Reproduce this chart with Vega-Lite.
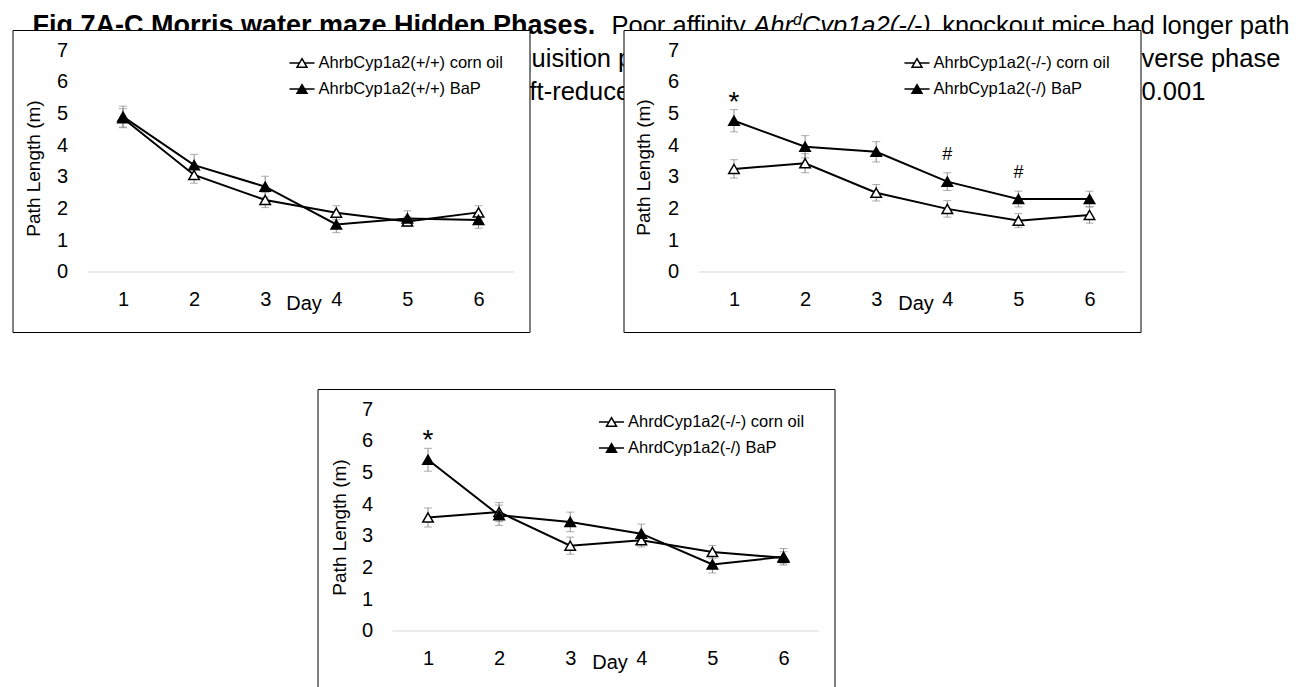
{
  "$schema": "https://vega.github.io/schema/vega-lite/v6.json",
  "background": "white",
  "padding": {"left": 11.5, "top": 12, "right": 5, "bottom": 0},
  "config": {
    "font": "Liberation Sans",
    "view": {"stroke": null},
    "axis": {"labelColor": "black", "titleColor": "black", "labelFont": "Liberation Sans", "titleFont": "Liberation Sans", "titleFontWeight": "normal"},
    "axisX": {"offset": -60, "grid": false, "ticks": false, "domain": false, "labelFontSize": 20, "labelPadding": 17, "labelFlush": false, "labelOverlap": false, "titleFontSize": 20, "titleX": 291, "titleY": 37, "titleBaseline": "alphabetic", "titleAlign": "center"},
    "axisY": {"offset": -57, "grid": false, "ticks": false, "domain": false, "labelFontSize": 20, "labelPadding": 2, "labelFlush": false, "labelOverlap": false, "titleFontSize": 19, "titleX": -36, "titleY": 138, "titleAngle": 270, "titleAlign": "center", "titleBaseline": "middle"},
    "legend": {"labelColor": "black", "labelFont": "Liberation Sans", "labelFontSize": 16.5, "labelOffset": 4, "rowPadding": 5, "padding": 0, "labelLimit": 400, "symbolSize": 529, "symbolStrokeWidth": 1.5, "symbolStrokeColor": "black"},
    "text": {"color": "black", "font": "Liberation Sans"}
  },
  "resolve": {"scale": {"fill": "independent"}, "legend": {"fill": "independent"}},
  "spacing": 55,
  "vconcat": [
    {
      "resolve": {"scale": {"fill": "independent"}, "legend": {"fill": "independent"}},
      "spacing": -1,
      "bounds": "flush",
      "hconcat": [
        {
          "width": 1, "height": 1,
          "view": {"stroke": null},
          "data": {"values": [
            {"seg": "t", "text": "Fig 7A-C Morris water maze Hidden Phases."},
            {"seg": "a", "text": "Poor affinity"},
            {"seg": "b", "text": "Ahr"},
            {"seg": "c", "text": "d"},
            {"seg": "e", "text": "Cyp1a2(-/-)"},
            {"seg": "f", "text": "knockout mice had longer path"},
            {"seg": "g", "text": "acquisition phase"},
            {"seg": "h", "text": "reverse phase"},
            {"seg": "i", "text": "shift-reduced"},
            {"seg": "j", "text": "p < 0.001"}
          ]},
          "layer": [
            {"transform": [{"filter": "datum.seg === 't'"}], "mark": {"type": "text", "align": "left", "baseline": "alphabetic", "fontSize": 27, "fontWeight": "bold"}, "encoding": {"text": {"field": "text"}, "x": {"value": 21}, "y": {"value": 4}}},
            {"transform": [{"filter": "datum.seg === 'a'"}], "mark": {"type": "text", "align": "left", "baseline": "alphabetic", "fontSize": 25.5}, "encoding": {"text": {"field": "text"}, "x": {"value": 600}, "y": {"value": 4}}},
            {"transform": [{"filter": "datum.seg === 'b'"}], "mark": {"type": "text", "align": "left", "baseline": "alphabetic", "fontSize": 25.5, "fontStyle": "italic"}, "encoding": {"text": {"field": "text"}, "x": {"value": 741.7}, "y": {"value": 4}}},
            {"transform": [{"filter": "datum.seg === 'c'"}], "mark": {"type": "text", "align": "left", "baseline": "alphabetic", "fontSize": 16, "fontStyle": "italic"}, "encoding": {"text": {"field": "text"}, "x": {"value": 781.4}, "y": {"value": -5}}},
            {"transform": [{"filter": "datum.seg === 'e'"}], "mark": {"type": "text", "align": "left", "baseline": "alphabetic", "fontSize": 25.5, "fontStyle": "italic"}, "encoding": {"text": {"field": "text"}, "x": {"value": 790.3}, "y": {"value": 4}}},
            {"transform": [{"filter": "datum.seg === 'f'"}], "mark": {"type": "text", "align": "right", "baseline": "alphabetic", "fontSize": 25.5}, "encoding": {"text": {"field": "text"}, "x": {"value": 1278}, "y": {"value": 4}}},
            {"transform": [{"filter": "datum.seg === 'g'"}], "mark": {"type": "text", "align": "left", "baseline": "alphabetic", "fontSize": 25.5}, "encoding": {"text": {"field": "text"}, "x": {"value": 479}, "y": {"value": 37}}},
            {"transform": [{"filter": "datum.seg === 'h'"}], "mark": {"type": "text", "align": "left", "baseline": "alphabetic", "fontSize": 25.5}, "encoding": {"text": {"field": "text"}, "x": {"value": 1107.3}, "y": {"value": 37}}},
            {"transform": [{"filter": "datum.seg === 'i'"}], "mark": {"type": "text", "align": "left", "baseline": "alphabetic", "fontSize": 25.5}, "encoding": {"text": {"field": "text"}, "x": {"value": 485.4}, "y": {"value": 70}}},
            {"transform": [{"filter": "datum.seg === 'j'"}], "mark": {"type": "text", "align": "left", "baseline": "alphabetic", "fontSize": 25.5}, "encoding": {"text": {"field": "text"}, "x": {"value": 1086.8}, "y": {"value": 70}}}
          ]
        },
        {
          "resolve": {"scale": {"fill": "independent"}, "legend": {"fill": "independent"}},
          "spacing": 94,
          "bounds": "flush",
          "hconcat": [
            {
              "width": 517, "height": 302,
              "view": {"fill": "white", "stroke": "black", "strokeWidth": 1},
              "data": {"values": [
                {"day": 1, "group": "AhrbCyp1a2(+/+) corn oil", "mean": 4.85, "se": 0.30},
                {"day": 2, "group": "AhrbCyp1a2(+/+) corn oil", "mean": 3.06, "se": 0.26},
                {"day": 3, "group": "AhrbCyp1a2(+/+) corn oil", "mean": 2.27, "se": 0.24},
                {"day": 4, "group": "AhrbCyp1a2(+/+) corn oil", "mean": 1.87, "se": 0.22},
                {"day": 5, "group": "AhrbCyp1a2(+/+) corn oil", "mean": 1.59, "se": 0.15},
                {"day": 6, "group": "AhrbCyp1a2(+/+) corn oil", "mean": 1.88, "se": 0.21},
                {"day": 1, "group": "AhrbCyp1a2(+/+) BaP", "mean": 4.90, "se": 0.33},
                {"day": 2, "group": "AhrbCyp1a2(+/+) BaP", "mean": 3.37, "se": 0.34},
                {"day": 3, "group": "AhrbCyp1a2(+/+) BaP", "mean": 2.69, "se": 0.33},
                {"day": 4, "group": "AhrbCyp1a2(+/+) BaP", "mean": 1.50, "se": 0.26},
                {"day": 5, "group": "AhrbCyp1a2(+/+) BaP", "mean": 1.69, "se": 0.24},
                {"day": 6, "group": "AhrbCyp1a2(+/+) BaP", "mean": 1.64, "se": 0.26}
              ]},
              "encoding": {
                "x": {"field": "day", "type": "quantitative", "scale": {"domain": [-0.554, 6.717], "nice": false, "zero": false}, "axis": {"values": [1, 2, 3, 4, 5, 6], "title": "Day"}},
                "y": {"field": "mean", "type": "quantitative", "scale": {"domain": [-1.892, 7.631], "nice": false, "zero": false}, "axis": {"values": [0, 1, 2, 3, 4, 5, 6, 7], "title": "Path Length (m)"}}
              },
              "layer": [
                {"data": {"values": [{"level": 0, "start": 0.5, "end": 6.5}]}, "mark": {"type": "rule", "color": "#d9d9d9", "strokeWidth": 1},
                 "encoding": {"x": {"field": "start", "type": "quantitative", "scale": {"domain": [-0.554, 6.717], "nice": false, "zero": false}, "axis": {"values": [1, 2, 3, 4, 5, 6], "title": "Day"}}, "x2": {"field": "end"}, "y": {"field": "level", "type": "quantitative", "scale": {"domain": [-1.892, 7.631], "nice": false, "zero": false}, "axis": {"values": [0, 1, 2, 3, 4, 5, 6, 7], "title": "Path Length (m)"}}}},
                {"mark": {"type": "errorbar", "ticks": true, "size": 8, "thickness": 1, "color": "#8a8a8a"},
                 "encoding": {"yError": {"field": "se"}}},
                {"mark": {"type": "line", "color": "black", "strokeWidth": 2},
                 "encoding": {"detail": {"field": "group"}}},
                {"mark": {"type": "point", "shape": "triangle-up", "size": 110, "filled": true, "stroke": "black", "strokeWidth": 1.5, "opacity": 1},
                 "encoding": {
                   "fill": {"field": "group", "type": "nominal", "scale": {"domain": ["AhrbCyp1a2(+/+) corn oil", "AhrbCyp1a2(+/+) BaP"], "range": ["white", "black"]},
                            "legend": {"title": null, "orient": "none", "legendX": 277, "legendY": 20.5, "symbolType": "M-1.09,0L-0.22,0M0.22,0L1.09,0M0,-0.377L0.435,0.377L-0.435,0.377Z"}}}}
              ]
            },
            {
              "width": 517, "height": 302,
              "view": {"fill": "white", "stroke": "black", "strokeWidth": 1},
              "data": {"values": [
                {"day": 1, "group": "AhrbCyp1a2(-/-) corn oil", "mean": 3.25, "se": 0.29},
                {"day": 2, "group": "AhrbCyp1a2(-/-) corn oil", "mean": 3.43, "se": 0.30},
                {"day": 3, "group": "AhrbCyp1a2(-/-) corn oil", "mean": 2.50, "se": 0.26},
                {"day": 4, "group": "AhrbCyp1a2(-/-) corn oil", "mean": 1.99, "se": 0.26},
                {"day": 5, "group": "AhrbCyp1a2(-/-) corn oil", "mean": 1.62, "se": 0.22},
                {"day": 6, "group": "AhrbCyp1a2(-/-) corn oil", "mean": 1.80, "se": 0.26},
                {"day": 1, "group": "AhrbCyp1a2(-/) BaP", "mean": 4.77, "se": 0.35},
                {"day": 2, "group": "AhrbCyp1a2(-/) BaP", "mean": 3.95, "se": 0.35},
                {"day": 3, "group": "AhrbCyp1a2(-/) BaP", "mean": 3.79, "se": 0.32},
                {"day": 4, "group": "AhrbCyp1a2(-/) BaP", "mean": 2.85, "se": 0.28},
                {"day": 5, "group": "AhrbCyp1a2(-/) BaP", "mean": 2.30, "se": 0.25},
                {"day": 6, "group": "AhrbCyp1a2(-/) BaP", "mean": 2.30, "se": 0.25}
              ]},
              "encoding": {
                "x": {"field": "day", "type": "quantitative", "scale": {"domain": [-0.554, 6.717], "nice": false, "zero": false}, "axis": {"values": [1, 2, 3, 4, 5, 6], "title": "Day", "titleX": 292}},
                "y": {"field": "mean", "type": "quantitative", "scale": {"domain": [-1.892, 7.631], "nice": false, "zero": false}, "axis": {"values": [0, 1, 2, 3, 4, 5, 6, 7], "title": "Path Length (m)", "titleX": -37, "titleY": 137}}
              },
              "layer": [
                {"data": {"values": [{"level": 0, "start": 0.5, "end": 6.5}]}, "mark": {"type": "rule", "color": "#d9d9d9", "strokeWidth": 1},
                 "encoding": {"x": {"field": "start", "type": "quantitative", "scale": {"domain": [-0.554, 6.717], "nice": false, "zero": false}, "axis": {"values": [1, 2, 3, 4, 5, 6], "title": "Day", "titleX": 292}}, "x2": {"field": "end"}, "y": {"field": "level", "type": "quantitative", "scale": {"domain": [-1.892, 7.631], "nice": false, "zero": false}, "axis": {"values": [0, 1, 2, 3, 4, 5, 6, 7], "title": "Path Length (m)", "titleX": -37, "titleY": 137}}}},
                {"mark": {"type": "errorbar", "ticks": true, "size": 8, "thickness": 1, "color": "#8a8a8a"},
                 "encoding": {"yError": {"field": "se"}}},
                {"mark": {"type": "line", "color": "black", "strokeWidth": 2},
                 "encoding": {"detail": {"field": "group"}}},
                {"mark": {"type": "point", "shape": "triangle-up", "size": 110, "filled": true, "stroke": "black", "strokeWidth": 1.5, "opacity": 1},
                 "encoding": {
                   "fill": {"field": "group", "type": "nominal", "scale": {"domain": ["AhrbCyp1a2(-/-) corn oil", "AhrbCyp1a2(-/) BaP"], "range": ["white", "black"]},
                            "legend": {"title": null, "orient": "none", "legendX": 281, "legendY": 20.5, "symbolType": "M-1.09,0L-0.22,0M0.22,0L1.09,0M0,-0.377L0.435,0.377L-0.435,0.377Z"}}}},
                {"data": {"values": [{"day": 1, "mean": 5.07, "sig": "*"}]},
                 "mark": {"type": "text", "fontSize": 28, "align": "center", "baseline": "alphabetic"},
                 "encoding": {"text": {"field": "sig"}}},
                {"data": {"values": [{"day": 4, "mean": 3.53, "sig": "#"}, {"day": 5, "mean": 2.96, "sig": "#"}]},
                 "mark": {"type": "text", "fontSize": 18, "align": "center", "baseline": "alphabetic"},
                 "encoding": {"text": {"field": "sig"}}}
              ]
            }
          ]
        }
      ]
    },
    {
      "resolve": {"scale": {"fill": "independent"}, "legend": {"fill": "independent"}},
      "spacing": 0,
      "bounds": "flush",
      "hconcat": [
        {
          "width": 306, "height": 100,
          "view": {"stroke": null},
          "data": {"values": [{"t": ""}]},
          "mark": {"type": "text"},
          "encoding": {"text": {"field": "t"}}
        },
        {
          "width": 517, "height": 302,
          "view": {"fill": "white", "stroke": "black", "strokeWidth": 1},
          "data": {"values": [
            {"day": 1, "group": "AhrdCyp1a2(-/-) corn oil", "mean": 3.58, "se": 0.30},
            {"day": 2, "group": "AhrdCyp1a2(-/-) corn oil", "mean": 3.75, "se": 0.30},
            {"day": 3, "group": "AhrdCyp1a2(-/-) corn oil", "mean": 2.69, "se": 0.27},
            {"day": 4, "group": "AhrdCyp1a2(-/-) corn oil", "mean": 2.86, "se": 0.21},
            {"day": 5, "group": "AhrdCyp1a2(-/-) corn oil", "mean": 2.49, "se": 0.21},
            {"day": 6, "group": "AhrdCyp1a2(-/-) corn oil", "mean": 2.31, "se": 0.19},
            {"day": 1, "group": "AhrdCyp1a2(-/) BaP", "mean": 5.40, "se": 0.36},
            {"day": 2, "group": "AhrdCyp1a2(-/) BaP", "mean": 3.65, "se": 0.32},
            {"day": 3, "group": "AhrdCyp1a2(-/) BaP", "mean": 3.44, "se": 0.31},
            {"day": 4, "group": "AhrdCyp1a2(-/) BaP", "mean": 3.07, "se": 0.30},
            {"day": 5, "group": "AhrdCyp1a2(-/) BaP", "mean": 2.10, "se": 0.27},
            {"day": 6, "group": "AhrdCyp1a2(-/) BaP", "mean": 2.34, "se": 0.26}
          ]},
          "encoding": {
            "x": {"field": "day", "type": "quantitative", "scale": {"domain": [-0.554, 6.717], "nice": false, "zero": false}, "axis": {"values": [1, 2, 3, 4, 5, 6], "title": "Day", "titleX": 292}},
            "y": {"field": "mean", "type": "quantitative", "scale": {"domain": [-1.892, 7.631], "nice": false, "zero": false}, "axis": {"values": [0, 1, 2, 3, 4, 5, 6, 7], "title": "Path Length (m)", "titleX": -35}}
          },
          "layer": [
            {"data": {"values": [{"level": 0, "start": 0.5, "end": 6.5}]}, "mark": {"type": "rule", "color": "#d9d9d9", "strokeWidth": 1},
             "encoding": {"x": {"field": "start", "type": "quantitative", "scale": {"domain": [-0.554, 6.717], "nice": false, "zero": false}, "axis": {"values": [1, 2, 3, 4, 5, 6], "title": "Day", "titleX": 292}}, "x2": {"field": "end"}, "y": {"field": "level", "type": "quantitative", "scale": {"domain": [-1.892, 7.631], "nice": false, "zero": false}, "axis": {"values": [0, 1, 2, 3, 4, 5, 6, 7], "title": "Path Length (m)", "titleX": -35}}}},
            {"mark": {"type": "errorbar", "ticks": true, "size": 8, "thickness": 1, "color": "#8a8a8a"},
             "encoding": {"yError": {"field": "se"}}},
            {"mark": {"type": "line", "color": "black", "strokeWidth": 2},
             "encoding": {"detail": {"field": "group"}}},
            {"mark": {"type": "point", "shape": "triangle-up", "size": 110, "filled": true, "stroke": "black", "strokeWidth": 1.5, "opacity": 1},
             "encoding": {
               "fill": {"field": "group", "type": "nominal", "scale": {"domain": ["AhrdCyp1a2(-/-) corn oil", "AhrdCyp1a2(-/) BaP"], "range": ["white", "black"]},
                        "legend": {"title": null, "orient": "none", "legendX": 281.5, "legendY": 20.5, "symbolType": "M-1.09,0L-0.22,0M0.22,0L1.09,0M0,-0.377L0.435,0.377L-0.435,0.377Z"}}}},
            {"data": {"values": [{"day": 1, "mean": 5.74, "sig": "*"}]},
             "mark": {"type": "text", "fontSize": 28, "align": "center", "baseline": "alphabetic"},
             "encoding": {"text": {"field": "sig"}}}
          ]
        }
      ]
    }
  ]
}
